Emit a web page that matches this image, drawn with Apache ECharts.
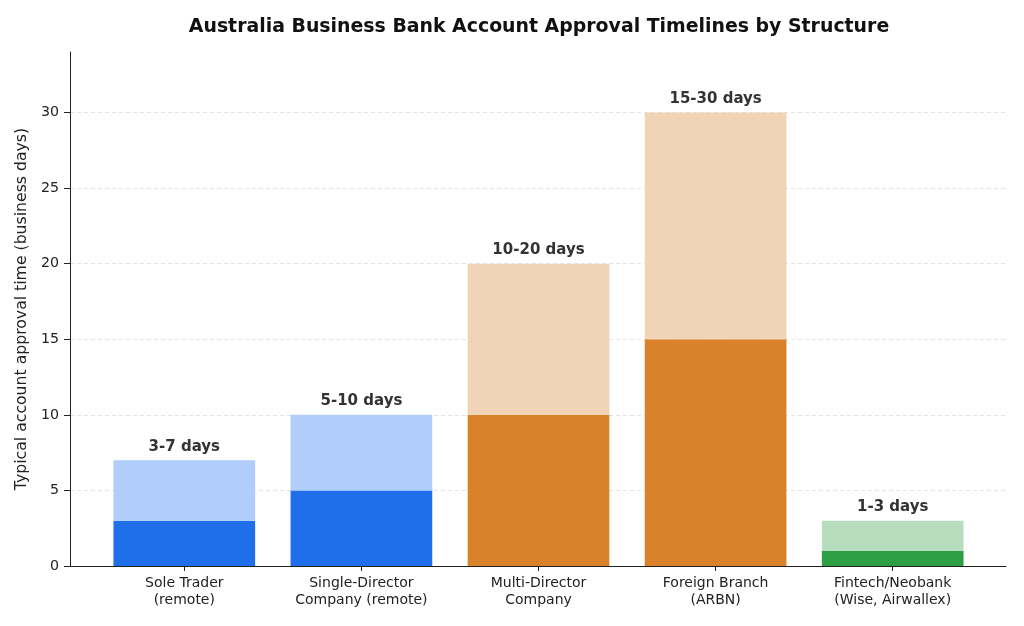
<!DOCTYPE html>
<html><head><meta charset="utf-8">
<script src="https://cdn.jsdelivr.net/npm/echarts@6/dist/echarts.min.js"></script>
<style>html,body{margin:0;padding:0;background:#fff}#c{width:1024px;height:626px}</style>
</head><body><div id="c"></div>
<script>
const categories = ['Sole Trader\n(remote)', 'Single-Director\nCompany (remote)', 'Multi-Director\nCompany', 'Foreign Branch\n(ARBN)', 'Fintech/Neobank\n(Wise, Airwallex)'];
const minDays = [3, 5, 10, 15, 1];
const maxDays = [7, 10, 20, 30, 3];
const yTicks = [0, 5, 10, 15, 20, 25, 30];
const darkColors = ['#1f6feb', '#1f6feb', '#d9822b', '#d9822b', '#2e9e44'];
const lightColors = ['#b1cdf9', '#b1cdf9', '#f1d4b6', '#f1d4b6', '#b7ddbf'];

const FONT = 'DejaVu Sans';
const YMAX = 34;
const chart = echarts.init(document.getElementById('c'));
chart.setOption({
  animation: false,
  textStyle: {fontFamily: FONT},
  title: {text: 'Australia Business Bank Account Approval Timelines by Structure', left: 534, textAlign: 'center', top: 13,
    textStyle: {fontFamily: FONT, fontSize: 18.9, fontWeight: 'bold', color: '#111'}},
  grid: [
    {left: 70, right: 18, top: 52, bottom: 60},
    {left: 95.75, right: 42.75, top: 52, bottom: 60}
  ],
  xAxis: [
    {type: 'value', gridIndex: 0, min: 0, max: 1, axisLine: {show: true, lineStyle: {color: '#222', width: 1}},
      axisTick: {show: false}, axisLabel: {show: false}, splitLine: {show: false}},
    {type: 'category', gridIndex: 1, data: categories, axisLine: {show: false},
      axisTick: {show: true, alignWithLabel: true, length: 5, lineStyle: {color: '#222'}},
      axisLabel: {fontFamily: FONT, fontSize: 14, color: '#222', lineHeight: 17, margin: 9}}
  ],
  yAxis: [
    {type: 'value', gridIndex: 0, min: 0, max: YMAX, interval: 5,
      name: 'Typical account approval time (business days)', nameLocation: 'middle', nameGap: 34,
      nameTextStyle: {fontFamily: FONT, fontSize: 15.7, color: '#222'},
      axisLine: {show: true, lineStyle: {color: '#222'}},
      axisTick: {show: true, length: 6, lineStyle: {color: '#222'}},
      axisLabel: {fontFamily: FONT, fontSize: 14.2, color: '#222', margin: 11, showMaxLabel: false,
        formatter: v => yTicks.includes(v) ? String(v) : ''},
      splitLine: {show: true, lineStyle: {type: [4, 3], width: 1,
        color: ['#e4e4e4', '#e4e4e4', '#e4e4e4', '#e4e4e4', '#e4e4e4', '#e4e4e4', '#e4e4e4', 'rgba(0,0,0,0)']}}},
    {type: 'value', gridIndex: 1, min: 0, max: YMAX, show: false, splitLine: {show: false}}
  ],
  series: [
    {type: 'bar', xAxisIndex: 1, yAxisIndex: 1, stack: 's', barWidth: '80%',
      data: minDays.map((v, i) => ({value: v, itemStyle: {color: darkColors[i]}}))},
    {type: 'bar', xAxisIndex: 1, yAxisIndex: 1, stack: 's', barWidth: '80%',
      data: maxDays.map((v, i) => ({value: v - minDays[i], itemStyle: {color: lightColors[i]}})),
      label: {show: true, position: 'top', distance: 6, fontFamily: FONT, fontSize: 15, fontWeight: 'bold', color: '#333',
        formatter: p => minDays[p.dataIndex] + '-' + maxDays[p.dataIndex] + ' days'}}
  ]
});
</script></body></html>
